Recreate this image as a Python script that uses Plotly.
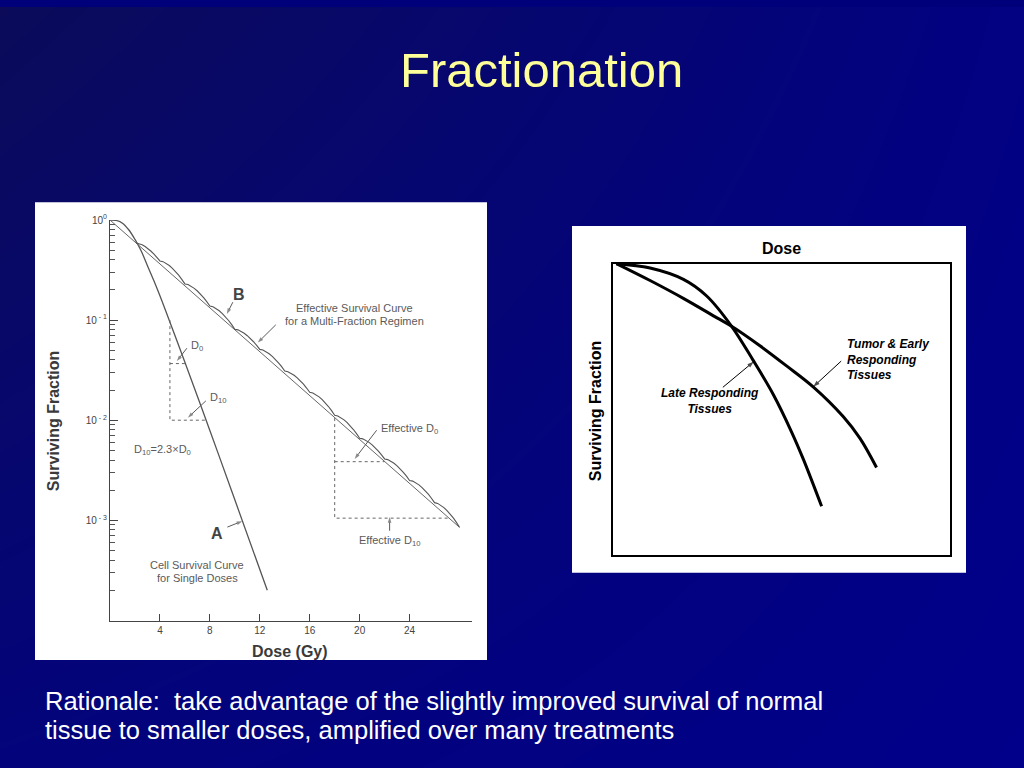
import math
import plotly.graph_objects as go

# ---------------- data ----------------
# Left chart: curve A (single doses)
a_dose = [0, 0.5, 1.0, 1.5, 2.0, 2.5, 3.0, 3.5, 4.0, 5.0, 6.0, 8.0, 10.0, 12.6]
a_sf = [1.0, 0.99, 0.93, 0.80, 0.64, 0.49, 0.35, 0.25, 0.175, 0.082, 0.038, 0.0079, 0.0016, 0.0002]

# Curve B (multi-fraction): cusp points between fractions
b_node_dose = [0, 2.1, 4, 6, 8, 10, 12, 14, 16, 18, 20, 22, 24, 26, 28]
b_node_sf = [1.0, 0.59, 0.39, 0.23, 0.138, 0.081, 0.051, 0.031, 0.019, 0.0112,
             0.0066, 0.0041, 0.0025, 0.0015, 0.00085]
# shoulder shape within one fraction (fraction of interval, fraction of log drop)
frac_pos = [0, 0.125, 0.25, 0.375, 0.5, 0.625, 0.75, 0.875, 1.0]
frac_drop = [0, 0.03, 0.10, 0.20, 0.32, 0.46, 0.62, 0.80, 1.0]

# straight effective curve for B
b_eff_dose = [0, 28]
b_eff_sf = [1.0, 0.00085]

# dashed D0 / D10 constructions
a_d10_dose = [4.8, 4.8, 7.8]
a_d10_sf = [0.1, 0.01, 0.01]
a_d0_dose = [4.8, 6.05]
a_d0_sf = [0.0368, 0.0368]
b_d10_dose = [18, 18, 27.2]
b_d10_sf = [0.0105, 0.00105, 0.00105]
b_d0_dose = [18, 22]
b_d0_sf = [0.00385, 0.00385]

x_ticks = [4, 8, 12, 16, 20, 24]
y_ticks = [1, 0.1, 0.01, 0.001]
y_ticktext = ["10<sup>0</sup>", "10<sup> - 1</sup>", "10<sup> - 2</sup>", "10<sup> - 3</sup>"]

# Right chart (arbitrary units)
tumor_x = [0.1, 1.1, 2.1, 3.1, 3.52, 4.36, 5.15, 5.94, 6.83, 7.33, 7.82]
tumor_y = [10.0, 9.42, 8.80, 8.13, 7.85, 7.18, 6.49, 5.77, 4.75, 4.0, 3.0]
late_x = [0.1, 1.10, 2.09, 2.78, 3.52, 4.16, 4.76, 5.30, 5.65, 6.19]
late_y = [10.0, 9.85, 9.46, 8.89, 7.85, 6.68, 5.50, 4.22, 3.28, 1.67]

# ---------------- build B scalloped curve from the read points ----------------
b_x, b_y = [], []
for k in range(1, len(b_node_dose) - 1):
    d0, d1 = b_node_dose[k], b_node_dose[k + 1]
    l0, l1 = math.log10(b_node_sf[k]), math.log10(b_node_sf[k + 1])
    for p, f in zip(frac_pos, frac_drop):
        if k > 1 and p == 0:
            continue
        b_x.append(d0 + (d1 - d0) * p)
        b_y.append(10 ** (l0 + (l1 - l0) * f))

FONT = "Liberation Sans, Arial, Helvetica, sans-serif"
GRAY = "#5a5a5a"
DARK = "#3a3a3a"
W, H = 1024, 768

# pixel scale of the two chart areas (used for arrow tails)
L_PX_PER_GY, L_PX_PER_DEC = 12.5, 101.25
R_PX_X, R_PX_Y = 33.7, 29.4

fig = go.Figure()

# background gradient (full page axes, pixel coordinates)
fig.add_trace(go.Heatmap(x=[0, W], y=[0, H], z=[[0, 0.85], [0.7, 1.0]],
                         colorscale=[[0, "#0b0b5a"], [1, "#00008a"]], zsmooth="best",
                         showscale=False, hoverinfo="skip", xaxis="x", yaxis="y"))
# white panels
fig.add_trace(go.Scatter(x=[35, 487, 487, 35, 35], y=[197, 197, 659, 659, 197], fill="toself",
                         fillcolor="white", line=dict(width=0), mode="lines",
                         hoverinfo="skip", xaxis="x", yaxis="y"))
fig.add_trace(go.Scatter(x=[572, 966, 966, 572, 572], y=[221, 221, 571, 571, 221], fill="toself",
                         fillcolor="white", line=dict(width=0), mode="lines",
                         hoverinfo="skip", xaxis="x", yaxis="y"))

# left chart curves
dash = "3px,3px"
fig.add_trace(go.Scatter(x=a_dose, y=a_sf, mode="lines", line=dict(color="#555", width=1.3, shape="spline"),
                         xaxis="x2", yaxis="y2"))
fig.add_trace(go.Scatter(x=b_eff_dose, y=b_eff_sf, mode="lines", line=dict(color="#666", width=1),
                         xaxis="x2", yaxis="y2"))
fig.add_trace(go.Scatter(x=b_x, y=b_y, mode="lines", line=dict(color="#555", width=1.1),
                         xaxis="x2", yaxis="y2"))
for xs, ys in [(a_d10_dose, a_d10_sf), (a_d0_dose, a_d0_sf), (b_d10_dose, b_d10_sf), (b_d0_dose, b_d0_sf)]:
    fig.add_trace(go.Scatter(x=xs, y=ys, mode="lines", line=dict(color="#666", width=1, dash=dash),
                             xaxis="x2", yaxis="y2"))

# right chart curves
fig.add_trace(go.Scatter(x=tumor_x, y=tumor_y, mode="lines", line=dict(color="black", width=3, shape="spline"),
                         xaxis="x3", yaxis="y3"))
fig.add_trace(go.Scatter(x=late_x, y=late_y, mode="lines", line=dict(color="black", width=3, shape="spline"),
                         xaxis="x3", yaxis="y3"))


def arrow_left(dose, sf, ax, ay):
    """arrow ending at (dose, sf) on the left chart; tail offset ax, ay in pixels"""
    tx = dose + ax / L_PX_PER_GY
    ty = 10 ** (math.log10(sf) - ay / L_PX_PER_DEC)
    fig.add_trace(go.Scatter(x=[tx, dose], y=[ty, sf], mode="lines+markers", xaxis="x2", yaxis="y2",
                             line=dict(color=GRAY, width=1), hoverinfo="skip", cliponaxis=False,
                             marker=dict(symbol="arrow", size=[0, 6], angleref="previous", color=GRAY,
                                         line=dict(width=0))))


def arrow_right(x, y, ax, ay):
    tx = x + ax / R_PX_X
    ty = y - ay / R_PX_Y
    fig.add_trace(go.Scatter(x=[tx, x], y=[ty, y], mode="lines+markers", xaxis="x3", yaxis="y3",
                             line=dict(color="black", width=1), hoverinfo="skip", cliponaxis=False,
                             marker=dict(symbol="arrow", size=[0, 7], angleref="previous", color="black",
                                         line=dict(width=0))))


arrow_left(9.36, 0.115, 6, -12)
arrow_left(11.84, 0.0596, 18, -18)
arrow_left(10.6, 0.00098, -15, 6)
arrow_left(5.36, 0.039, 10, -13)
arrow_left(6.24, 0.0106, 18, -17)
arrow_left(19.6, 0.0041, 22, -29)
arrow_left(22.4, 0.00108, 0, 14)
arrow_right(5.94, 5.77, 28, -26)
arrow_right(4.18, 6.64, -31, 26)

minor_vals = [m * 10 ** e for e in range(-4, 0) for m in range(2, 10)]
hidden_font = dict(size=10, color="#444", family=FONT)

fig.update_layout(
    width=W, height=H, margin=dict(l=0, r=0, t=0, b=0),
    font=dict(family=FONT, size=11, color=GRAY),
    paper_bgcolor="#00007a", plot_bgcolor="rgba(0,0,0,0)", showlegend=False,
    xaxis=dict(domain=[0, 1], range=[0, W], visible=False, fixedrange=True, tickfont=hidden_font),
    yaxis=dict(domain=[0, 1], range=[H, 0], visible=False, fixedrange=True, tickfont=hidden_font),
    xaxis2=dict(domain=[110 / W, 472 / W], anchor="y2", range=[0, 29], showline=True,
                linecolor="#444", linewidth=1, ticks="inside", ticklen=7, tickcolor="#444",
                tickvals=x_ticks, tickfont=dict(size=10, color="#444", family=FONT),
                showgrid=False, zeroline=False, fixedrange=True),
    yaxis2=dict(domain=[1 - 620 / H, 1 - 215 / H], anchor="x2", type="log", range=[-4.01, 0],
                showline=True, linecolor="#444", linewidth=1, ticks="inside", ticklen=8,
                tickcolor="#444", tickvals=y_ticks, ticktext=y_ticktext,
                tickfont=dict(size=10, color="#444", family=FONT), showgrid=False, zeroline=False,
                fixedrange=True,
                minor=dict(tickvals=minor_vals, ticks="inside", ticklen=5, tickcolor="#555", showgrid=False)),
    xaxis3=dict(domain=[613 / W, 950 / W], anchor="y3", range=[0, 10], showline=True, mirror=True,
                linecolor="black", linewidth=2, ticks="", showticklabels=False, showgrid=False,
                zeroline=False, fixedrange=True, tickfont=hidden_font),
    yaxis3=dict(domain=[1 - 553 / H, 1 - 259 / H], anchor="x3", range=[0, 10], showline=True, mirror=True,
                linecolor="black", linewidth=2, ticks="", showticklabels=False, showgrid=False,
                zeroline=False, fixedrange=True, tickfont=hidden_font),
)

ann = []

def txt(x, y, text, size=11, color=GRAY, xanchor="center", bold=False, italic=False, angle=0, align="center"):
    if bold:
        text = "<b>" + text + "</b>"
    if italic:
        text = "<i>" + text + "</i>"
    ann.append(dict(x=x / W, y=1 - y / H, xref="paper", yref="paper", text=text, showarrow=False,
                    xanchor=xanchor, yanchor="middle", textangle=angle, align=align,
                    font=dict(size=size, color=color, family=FONT)))

# title & body text
txt(541, 64, "Fractionation", size=49, color="#ffff99")
txt(43, 700, "Rationale:  take advantage of the slightly improved survival of normal", size=25.5,
    color="white", xanchor="left")
txt(43, 730, "tissue to smaller doses, amplified over many treatments", size=25.5, color="white",
    xanchor="left")

# left chart labels
txt(53, 418, "Surviving Fraction", size=16, color=DARK, bold=True, angle=-90)
txt(290, 650, "Dose (Gy)", size=16, color=DARK, bold=True)
txt(239, 290, "B", size=16, color="#444", bold=True)
txt(354, 304, "Effective Survival Curve", size=11)
txt(354, 317, "for a Multi-Fraction Regimen", size=11)
txt(189, 342, "D<sub>0</sub>", size=11, xanchor="left")
txt(208, 395, "D<sub>10</sub>", size=11, xanchor="left")
txt(132, 447, "D<sub>10</sub>=2.3×D<sub>0</sub>", size=11, xanchor="left")
txt(217, 531, "A", size=16, color="#444", bold=True)
txt(197, 563, "Cell Survival Curve", size=11)
txt(197, 576, "for Single Doses", size=11)
txt(379, 426, "Effective D<sub>0</sub>", size=11, xanchor="left")
txt(390, 539, "Effective D<sub>10</sub>", size=11)

# right chart labels
txt(781, 244, "Dose", size=16, color="black", bold=True)
txt(595, 408, "Surviving Fraction", size=16, color="black", bold=True, angle=-90)
txt(845, 356, "Tumor & Early<br>Responding<br>Tissues", size=12, color="black", xanchor="left",
    bold=True, italic=True, align="left")
txt(710, 398, "Late Responding<br>Tissues", size=12, color="black", bold=True, italic=True)

fig.update_layout(annotations=ann)
fig.write_html("out.html", config={"displayModeBar": False},
               post_script="document.body.style.margin='0';document.body.style.background='#00007a';")
